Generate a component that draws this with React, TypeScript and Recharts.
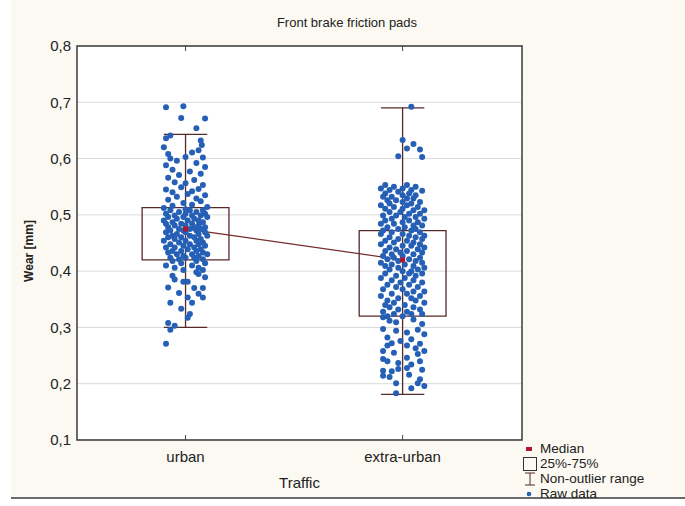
import React from 'react';
import { ScatterChart, Scatter, XAxis, YAxis, CartesianGrid, ReferenceArea, ReferenceLine } from 'recharts';

const FONT = '"Liberation Sans", Arial, Helvetica, sans-serif';

const categories = ['urban', 'extra-urban'];
const yTicks = [0.1, 0.2, 0.3, 0.4, 0.5, 0.6, 0.7, 0.8];
const boxQ1 = [0.42, 0.32];
const boxQ3 = [0.513, 0.472];
const medians = [0.475, 0.42];
const whiskerLow = [0.3, 0.181];
const whiskerHigh = [0.643, 0.69];

// [horizontal jitter (category units), wear value]
const urbanRaw: [number, number][] = [
  [-0.09, 0.691], [-0.01, 0.693], [-0.02, 0.672], [0.09, 0.671], [0.05, 0.654], [-0.07, 0.641], [-0.09, 0.636],
  [0.07, 0.632], [0.075, 0.624], [-0.1, 0.62], [0.06, 0.615], [-0.08, 0.608], [0.0, 0.603], [-0.07, 0.6],
  [0.08, 0.602], [0.03, 0.611], [-0.04, 0.596], [0.05, 0.592], [-0.09, 0.588], [0.09, 0.585], [-0.06, 0.58],
  [0.02, 0.577], [0.07, 0.573], [-0.03, 0.571], [-0.08, 0.566], [0.04, 0.562], [-0.05, 0.558], [0.0, 0.556],
  [0.08, 0.553], [-0.02, 0.549], [0.06, 0.546], [-0.09, 0.545], [0.03, 0.542], [-0.06, 0.54], [0.01, 0.537],
  [0.09, 0.535], [-0.04, 0.532], [0.05, 0.529], [-0.08, 0.527], [0.07, 0.524], [-0.01, 0.521], [0.03, 0.518],
  [-0.06, 0.516], [0.1, 0.514], [-0.1, 0.512], [0.0, 0.51],
  [-0.07, 0.508], [0.02, 0.508], [0.08, 0.508], [-0.03, 0.505], [0.05, 0.505], [-0.09, 0.502], [0.0, 0.502],
  [0.09, 0.502], [-0.05, 0.499], [0.03, 0.499], [0.07, 0.499], [-0.08, 0.496], [-0.01, 0.496], [0.1, 0.496],
  [-0.04, 0.493], [0.04, 0.493], [-0.1, 0.49], [0.01, 0.49], [0.06, 0.49], [-0.06, 0.487], [0.08, 0.487],
  [-0.02, 0.484], [0.03, 0.484], [-0.09, 0.484], [0.06, 0.481], [-0.05, 0.481], [0.0, 0.481], [-0.08, 0.478],
  [0.09, 0.478], [0.04, 0.478], [-0.03, 0.475], [0.02, 0.475], [0.07, 0.475], [-0.07, 0.472], [0.05, 0.472],
  [-0.01, 0.472], [0.09, 0.469], [-0.09, 0.469], [0.0, 0.469], [-0.04, 0.466], [0.06, 0.466], [0.02, 0.463],
  [-0.06, 0.463], [0.1, 0.463], [-0.02, 0.46], [0.04, 0.46], [-0.08, 0.46], [0.07, 0.457], [-0.05, 0.457],
  [0.0, 0.454], [0.05, 0.454], [-0.1, 0.454], [-0.03, 0.451], [0.08, 0.451], [-0.07, 0.448], [0.02, 0.448],
  [0.06, 0.448], [-0.01, 0.445], [0.09, 0.445], [-0.05, 0.442], [0.04, 0.442], [-0.09, 0.442], [0.01, 0.439],
  [0.07, 0.439], [-0.06, 0.436], [0.05, 0.436], [-0.02, 0.436], [0.08, 0.433], [-0.08, 0.433], [0.03, 0.43],
  [-0.04, 0.43], [0.1, 0.43], [-0.01, 0.427], [0.06, 0.427], [-0.07, 0.424], [0.04, 0.424], [0.0, 0.424],
  [0.08, 0.421], [-0.03, 0.421], [-0.06, 0.418], [0.05, 0.418], [0.09, 0.414], [-0.02, 0.414], [0.03, 0.41],
  [-0.09, 0.41], [0.06, 0.406], [-0.05, 0.406], [-0.01, 0.402], [0.08, 0.402],
  [0.06, 0.395], [-0.06, 0.392], [0.09, 0.389], [0.05, 0.398], [-0.05, 0.385], [-0.01, 0.381], [0.01, 0.381],
  [-0.08, 0.371], [0.04, 0.37], [0.08, 0.37], [-0.03, 0.361], [0.06, 0.36], [0.01, 0.353], [0.08, 0.353],
  [0.03, 0.344], [-0.07, 0.344], [-0.02, 0.333], [0.02, 0.324], [0.01, 0.317], [-0.08, 0.308], [-0.05, 0.303],
  [-0.07, 0.296], [-0.09, 0.271],
];

const extraRaw: [number, number][] = [
  [0.04, 0.692], [0.0, 0.633], [0.02, 0.618], [0.08, 0.616], [-0.02, 0.604], [0.09, 0.603], [0.05, 0.626],
  [-0.08, 0.553], [0.02, 0.553], [-0.04, 0.55], [0.06, 0.55], [0.09, 0.543], [-0.1, 0.547], [0.0, 0.547],
  [-0.06, 0.544], [0.04, 0.544], [-0.02, 0.541], [-0.08, 0.538], [0.03, 0.538], [0.0, 0.535], [0.06, 0.535],
  [-0.05, 0.532], [-0.09, 0.532], [0.02, 0.529], [0.05, 0.529], [-0.03, 0.526], [-0.07, 0.526], [0.08, 0.523],
  [0.0, 0.523], [-0.06, 0.52], [0.04, 0.52], [-0.1, 0.517], [0.02, 0.517], [0.07, 0.514], [-0.04, 0.514],
  [0.0, 0.511], [-0.08, 0.511], [0.05, 0.508], [0.1, 0.508], [-0.06, 0.505], [-0.01, 0.505], [0.03, 0.502],
  [0.08, 0.502], [-0.09, 0.499], [-0.03, 0.499], [0.01, 0.496], [0.06, 0.496], [-0.05, 0.493], [0.1, 0.493],
  [-0.08, 0.49], [0.03, 0.49], [0.0, 0.487], [0.07, 0.487], [-0.04, 0.484], [-0.1, 0.484], [0.05, 0.481],
  [0.09, 0.481], [-0.07, 0.478], [0.01, 0.478], [-0.02, 0.475], [0.06, 0.475], [-0.09, 0.472], [0.04, 0.472],
  [0.08, 0.469], [-0.05, 0.469], [0.0, 0.466], [-0.1, 0.466], [0.03, 0.463], [0.1, 0.463], [-0.06, 0.46],
  [0.06, 0.46], [-0.02, 0.457], [0.09, 0.457], [-0.08, 0.454], [0.02, 0.454], [0.05, 0.451], [-0.04, 0.451],
  [-0.1, 0.448], [0.08, 0.448], [0.0, 0.445], [0.04, 0.445], [-0.06, 0.442], [0.1, 0.442], [0.07, 0.439],
  [-0.03, 0.439], [-0.08, 0.436], [0.02, 0.436], [0.09, 0.433], [-0.01, 0.433], [-0.05, 0.43], [0.05, 0.43],
  [0.0, 0.427], [-0.09, 0.427], [0.08, 0.424], [-0.04, 0.424], [-0.07, 0.421], [0.03, 0.421], [0.06, 0.418],
  [-0.02, 0.418], [-0.1, 0.415], [0.09, 0.415], [0.01, 0.412], [-0.05, 0.412], [0.05, 0.409], [-0.08, 0.409],
  [-0.02, 0.406], [0.1, 0.406], [0.07, 0.403], [-0.06, 0.403], [0.0, 0.4], [0.04, 0.4],
  [-0.08, 0.396], [0.03, 0.396], [0.09, 0.396], [-0.03, 0.392], [0.06, 0.392], [-0.1, 0.388], [0.01, 0.388],
  [0.05, 0.384], [-0.05, 0.384], [0.09, 0.38], [-0.01, 0.38], [-0.07, 0.376], [0.03, 0.376], [0.07, 0.372],
  [-0.03, 0.372], [-0.09, 0.368], [0.0, 0.368], [0.05, 0.364], [0.1, 0.364], [-0.05, 0.36], [0.02, 0.36],
  [-0.1, 0.356], [0.08, 0.356], [-0.02, 0.352], [0.04, 0.352], [0.06, 0.348], [-0.07, 0.348], [-0.04, 0.344],
  [0.1, 0.344], [0.01, 0.34], [-0.08, 0.34], [-0.06, 0.336], [0.05, 0.336], [0.08, 0.332], [-0.02, 0.332],
  [-0.09, 0.328], [0.02, 0.328], [0.04, 0.324], [-0.04, 0.324], [0.09, 0.324], [-0.07, 0.32], [0.0, 0.32],
  [-0.09, 0.318], [-0.06, 0.312], [-0.03, 0.309], [0.05, 0.314], [0.09, 0.306], [-0.09, 0.297], [-0.03, 0.294],
  [0.02, 0.291], [0.07, 0.296], [0.1, 0.288], [-0.07, 0.282], [0.04, 0.279], [-0.01, 0.276], [-0.05, 0.272],
  [-0.07, 0.268], [0.08, 0.271], [0.02, 0.268], [0.06, 0.263], [-0.09, 0.258], [-0.04, 0.255], [0.07, 0.253],
  [0.1, 0.258], [0.02, 0.246], [-0.09, 0.244], [-0.07, 0.24], [-0.02, 0.237], [0.08, 0.24], [0.04, 0.234],
  [-0.09, 0.223], [-0.05, 0.222], [-0.02, 0.226], [0.02, 0.228], [0.09, 0.225], [-0.09, 0.214], [-0.06, 0.212],
  [0.08, 0.208], [0.03, 0.216], [-0.03, 0.201], [0.07, 0.201], [0.04, 0.192], [-0.03, 0.183], [0.1, 0.196],
];

const BOX_HALF = 0.2;
const CAP_HALF = 0.1;
const TICK_LEN = 0.009;
const X_DOMAIN: [number, number] = [-0.5, 1.55];

const BLUE = '#2560b6';
const BROWN = '#572a2a';
const LINE_RED = '#742a2a';
const MED_RED = '#b0162c';
const TEXT = '#222';

const rawData = [
  ...urbanRaw.map(([dx, v]) => ({ x: 0 + dx, y: v })),
  ...extraRaw.map(([dx, v]) => ({ x: 1 + dx, y: v })),
];
const medianData = medians.map((m, i) => ({ x: i, y: m }));

const Dot = (p: any) => <circle cx={p.cx} cy={p.cy} r={3} fill={BLUE} />;
const NoShape = () => <g />;
const MedMark = (p: any) => <rect x={p.cx - 2.5} y={p.cy - 2.5} width={5} height={5} fill={MED_RED} />;

const BottomTick = (p: any) => (
  <g>
    <line x1={p.x} x2={p.x} y1={p.y} y2={p.y - 5} stroke="#444" strokeWidth={1} />
    <text x={p.x} y={p.y + 22} textAnchor="middle" fontSize={15} fill={TEXT} fontFamily={FONT}>
      {categories[Math.round(p.payload.value)]}
    </text>
  </g>
);

const YLabel = (p: any) => {
  const vb = p.viewBox || { x: 0, y: 0, height: 0 };
  const cx = vb.x + 29;
  const cy = vb.y + vb.height / 2 + 8;
  return (
    <text x={cx} y={cy} transform={`rotate(-90 ${cx} ${cy})`} textAnchor="middle" dominantBaseline="central"
      fontSize={12} fontWeight="bold" fill={TEXT} fontFamily={FONT}>Wear [mm]</text>
  );
};
const XLabel = (p: any) => {
  const vb = p.viewBox || { x: 0, y: 0, width: 0 };
  return (
    <text x={vb.x + vb.width / 2} y={vb.y + 48} textAnchor="middle" fontSize={15} fill={TEXT} fontFamily={FONT}>Traffic</text>
  );
};

const legendItems = ['Median', '25%-75%', 'Non-outlier range', 'Raw data'];

const LegendIcon = ({ i }: { i: number }) => {
  if (i === 0) return <svg width={14} height={14}><rect x={3} y={5} width={6} height={4} fill={MED_RED} /></svg>;
  if (i === 1) return <svg width={14} height={14}><rect x={0.5} y={0.5} width={13} height={13} fill="none" stroke="#333" /></svg>;
  if (i === 2)
    return (
      <svg width={14} height={14}>
        <line x1={2} x2={12} y1={1} y2={1} stroke={BROWN} />
        <line x1={7} x2={7} y1={1} y2={13} stroke={BROWN} />
        <line x1={2} x2={12} y1={13} y2={13} stroke={BROWN} />
      </svg>
    );
  return <svg width={14} height={14}><circle cx={6} cy={7} r={2.3} fill={BLUE} /></svg>;
};

export default function App() {
  return (
    <div style={{ position: 'absolute', left: 0, top: 0, width: 685, height: 506, background: '#fff', overflow: 'hidden' }}>
      <div style={{ position: 'absolute', left: 11, top: 0, width: 674, height: 497, background: '#fbf9f1', borderBottom: '2px solid #6c6c6c' }} />
      <div style={{ position: 'absolute', left: 0, top: 15, width: 694, textAlign: 'center', fontFamily: FONT, fontSize: 13, color: TEXT }}>
        Front brake friction pads
      </div>
      <div style={{ position: 'absolute', left: 0, top: 0 }}>
        <ScatterChart width={685} height={506} margin={{ top: 46, right: 163, bottom: 16, left: 0 }}>
          <CartesianGrid horizontal vertical={false} stroke="#dadada" fill="#ffffff" />
          <XAxis type="number" dataKey="x" domain={X_DOMAIN} allowDataOverflow ticks={[0, 1]} height={50}
            tickSize={0} tickMargin={0} axisLine={false} tickLine={false} tick={<BottomTick />} label={<XLabel />} />
          <YAxis type="number" dataKey="y" domain={[0.1, 0.8]} allowDataOverflow ticks={yTicks} width={77}
            tickSize={0} tickMargin={6} axisLine={false} tickLine={false}
            tickFormatter={(v: number) => v.toFixed(1).replace('.', ',')}
            tick={{ fontSize: 15, fill: TEXT, fontFamily: FONT }} label={<YLabel />} />
          {categories.map((c, i) => (
            <ReferenceLine key={'tt' + c} segment={[{ x: i, y: 0.8 }, { x: i, y: 0.8 - TICK_LEN }]} stroke="#444" strokeWidth={1} />
          ))}
          {categories.map((c, i) => (
            <ReferenceArea key={'box' + c} x1={i - BOX_HALF} x2={i + BOX_HALF} y1={boxQ1[i]} y2={boxQ3[i]}
              fill="none" stroke={BROWN} strokeWidth={1.3} />
          ))}
          {categories.map((c, i) => (
            <ReferenceLine key={'w' + c} segment={[{ x: i, y: whiskerLow[i] }, { x: i, y: whiskerHigh[i] }]}
              stroke={BROWN} strokeWidth={1.3} />
          ))}
          {categories.map((c, i) => (
            <ReferenceLine key={'ch' + c} segment={[{ x: i - CAP_HALF, y: whiskerHigh[i] }, { x: i + CAP_HALF, y: whiskerHigh[i] }]}
              stroke={BROWN} strokeWidth={1.3} />
          ))}
          {categories.map((c, i) => (
            <ReferenceLine key={'cl' + c} segment={[{ x: i - CAP_HALF, y: whiskerLow[i] }, { x: i + CAP_HALF, y: whiskerLow[i] }]}
              stroke={BROWN} strokeWidth={1.3} />
          ))}
          <Scatter data={medianData} line={{ stroke: LINE_RED, strokeWidth: 1.2 }} shape={<NoShape />} isAnimationActive={false} />
          <Scatter data={rawData} shape={<Dot />} isAnimationActive={false} />
          <Scatter data={medianData} shape={<MedMark />} isAnimationActive={false} />
          <ReferenceArea x1={X_DOMAIN[0]} x2={X_DOMAIN[1]} y1={0.1} y2={0.8} fill="none" stroke="#3a3a3a" strokeWidth={1.5} />
        </ScatterChart>
      </div>
      <div style={{ position: 'absolute', left: 523, top: 441, fontFamily: FONT, fontSize: 13.5, color: TEXT }}>
        {legendItems.map((t, i) => (
          <div key={t} style={{ display: 'flex', alignItems: 'center', height: 15, lineHeight: '15px' }}>
            <LegendIcon i={i} />
            <span style={{ marginLeft: 3 }}>{t}</span>
          </div>
        ))}
      </div>
    </div>
  );
}
